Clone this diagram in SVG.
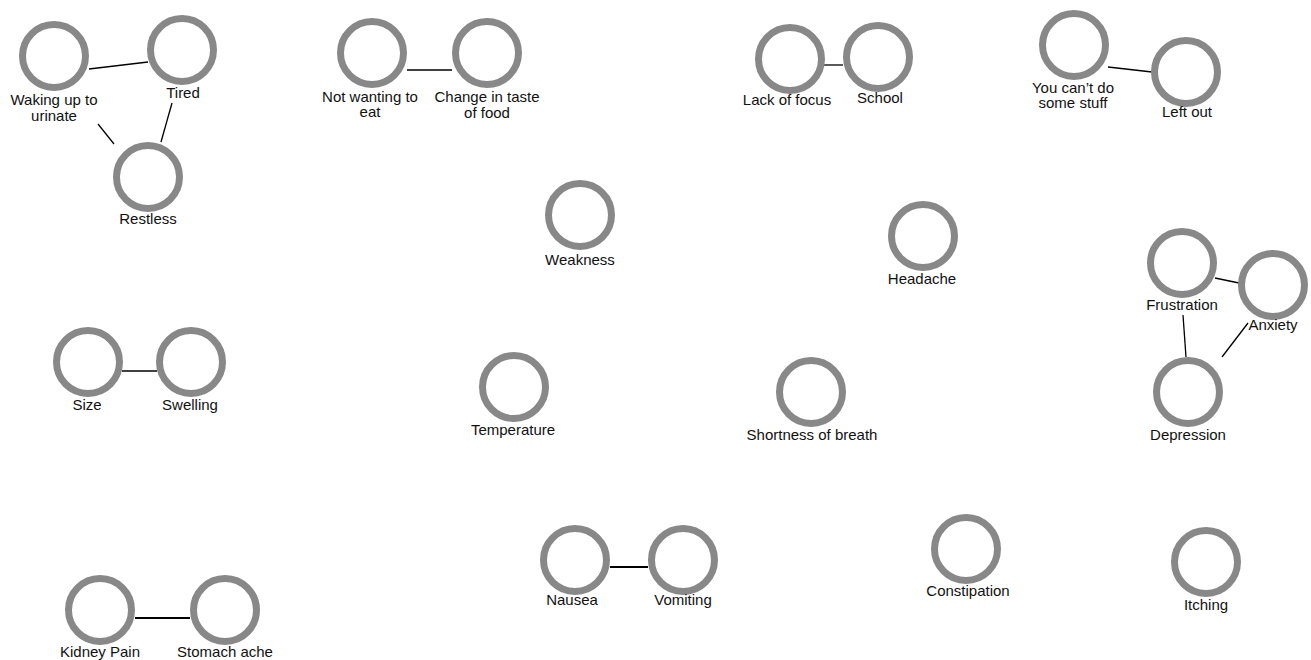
<svg xmlns="http://www.w3.org/2000/svg" width="1311" height="660" viewBox="0 0 1311 660">
<style>
.n circle{fill:#fff;stroke:#888;stroke-width:7}
.n text{font-family:"Liberation Sans",Arial,sans-serif;font-size:15px;fill:#111;text-anchor:middle}
#edges line{stroke:#000;stroke-width:1.3}
#edges line.thick{stroke-width:2}
</style>
<rect width="1311" height="660" fill="#fff"/>
<g id="edges">
<line x1="89" y1="69" x2="148" y2="62"/>
<line x1="172" y1="103" x2="161" y2="142"/>
<line x1="98" y1="124" x2="114" y2="144"/>
<line x1="407" y1="70" x2="452" y2="70"/>
<line x1="823" y1="65" x2="843" y2="65"/>
<line x1="1108" y1="67" x2="1152" y2="72"/>
<line x1="1215" y1="278" x2="1239" y2="283"/>
<line x1="1183" y1="315" x2="1186" y2="357"/>
<line x1="1248" y1="323" x2="1222" y2="357"/>
<line x1="122" y1="371" x2="157" y2="371"/>
<line class="thick" x1="135" y1="618" x2="190" y2="618"/>
<line class="thick" x1="610" y1="567" x2="648" y2="567"/>
</g>
<g id="waking" class="n"><circle cx="54" cy="56" r="31.5"/><text x="54" y="105">Waking up to</text><text x="54" y="121">urinate</text></g>
<g id="tired" class="n"><circle cx="182" cy="50" r="31.5"/><text x="183" y="98">Tired</text></g>
<g id="restless" class="n"><circle cx="148" cy="177" r="31.5"/><text x="148" y="224">Restless</text></g>
<g id="notwanting" class="n"><circle cx="372" cy="53" r="31.5"/><text x="370" y="102">Not wanting to</text><text x="370" y="117">eat</text></g>
<g id="taste" class="n"><circle cx="487" cy="53" r="31.5"/><text x="487" y="102">Change in taste</text><text x="487" y="118">of food</text></g>
<g id="focus" class="n"><circle cx="790" cy="59" r="31.5"/><text x="787" y="105">Lack of focus</text></g>
<g id="school" class="n"><circle cx="878" cy="57" r="31.5"/><text x="880" y="103">School</text></g>
<g id="cantdo" class="n"><circle cx="1074" cy="45" r="31.5"/><text x="1073" y="93">You can’t do</text><text x="1073" y="108">some stuff</text></g>
<g id="leftout" class="n"><circle cx="1186" cy="72" r="31.5"/><text x="1187" y="117">Left out</text></g>
<g id="weakness" class="n"><circle cx="580" cy="215" r="31.5"/><text x="580" y="265">Weakness</text></g>
<g id="headache" class="n"><circle cx="923" cy="236" r="31.5"/><text x="922" y="284">Headache</text></g>
<g id="frustration" class="n"><circle cx="1182" cy="263" r="31.5"/><text x="1182" y="310">Frustration</text></g>
<g id="anxiety" class="n"><circle cx="1273" cy="285" r="31.5"/><text x="1273" y="330">Anxiety</text></g>
<g id="depression" class="n"><circle cx="1188" cy="392" r="31.5"/><text x="1188" y="440">Depression</text></g>
<g id="size" class="n"><circle cx="88" cy="362" r="31.5"/><text x="87" y="410">Size</text></g>
<g id="swelling" class="n"><circle cx="191" cy="362" r="31.5"/><text x="190" y="410">Swelling</text></g>
<g id="temperature" class="n"><circle cx="514" cy="387" r="31.5"/><text x="513" y="435">Temperature</text></g>
<g id="breath" class="n"><circle cx="811" cy="392" r="31.5"/><text x="812" y="440">Shortness of breath</text></g>
<g id="nausea" class="n"><circle cx="575" cy="560" r="31.5"/><text x="572" y="605">Nausea</text></g>
<g id="vomiting" class="n"><circle cx="683" cy="560" r="31.5"/><text x="683" y="605">Vomiting</text></g>
<g id="constipation" class="n"><circle cx="966" cy="549" r="31.5"/><text x="968" y="596">Constipation</text></g>
<g id="itching" class="n"><circle cx="1206" cy="562" r="31.5"/><text x="1206" y="610">Itching</text></g>
<g id="kidney" class="n"><circle cx="100" cy="610" r="31.5"/><text x="100" y="657">Kidney Pain</text></g>
<g id="stomach" class="n"><circle cx="225" cy="610" r="31.5"/><text x="225" y="657">Stomach ache</text></g>
</svg>
